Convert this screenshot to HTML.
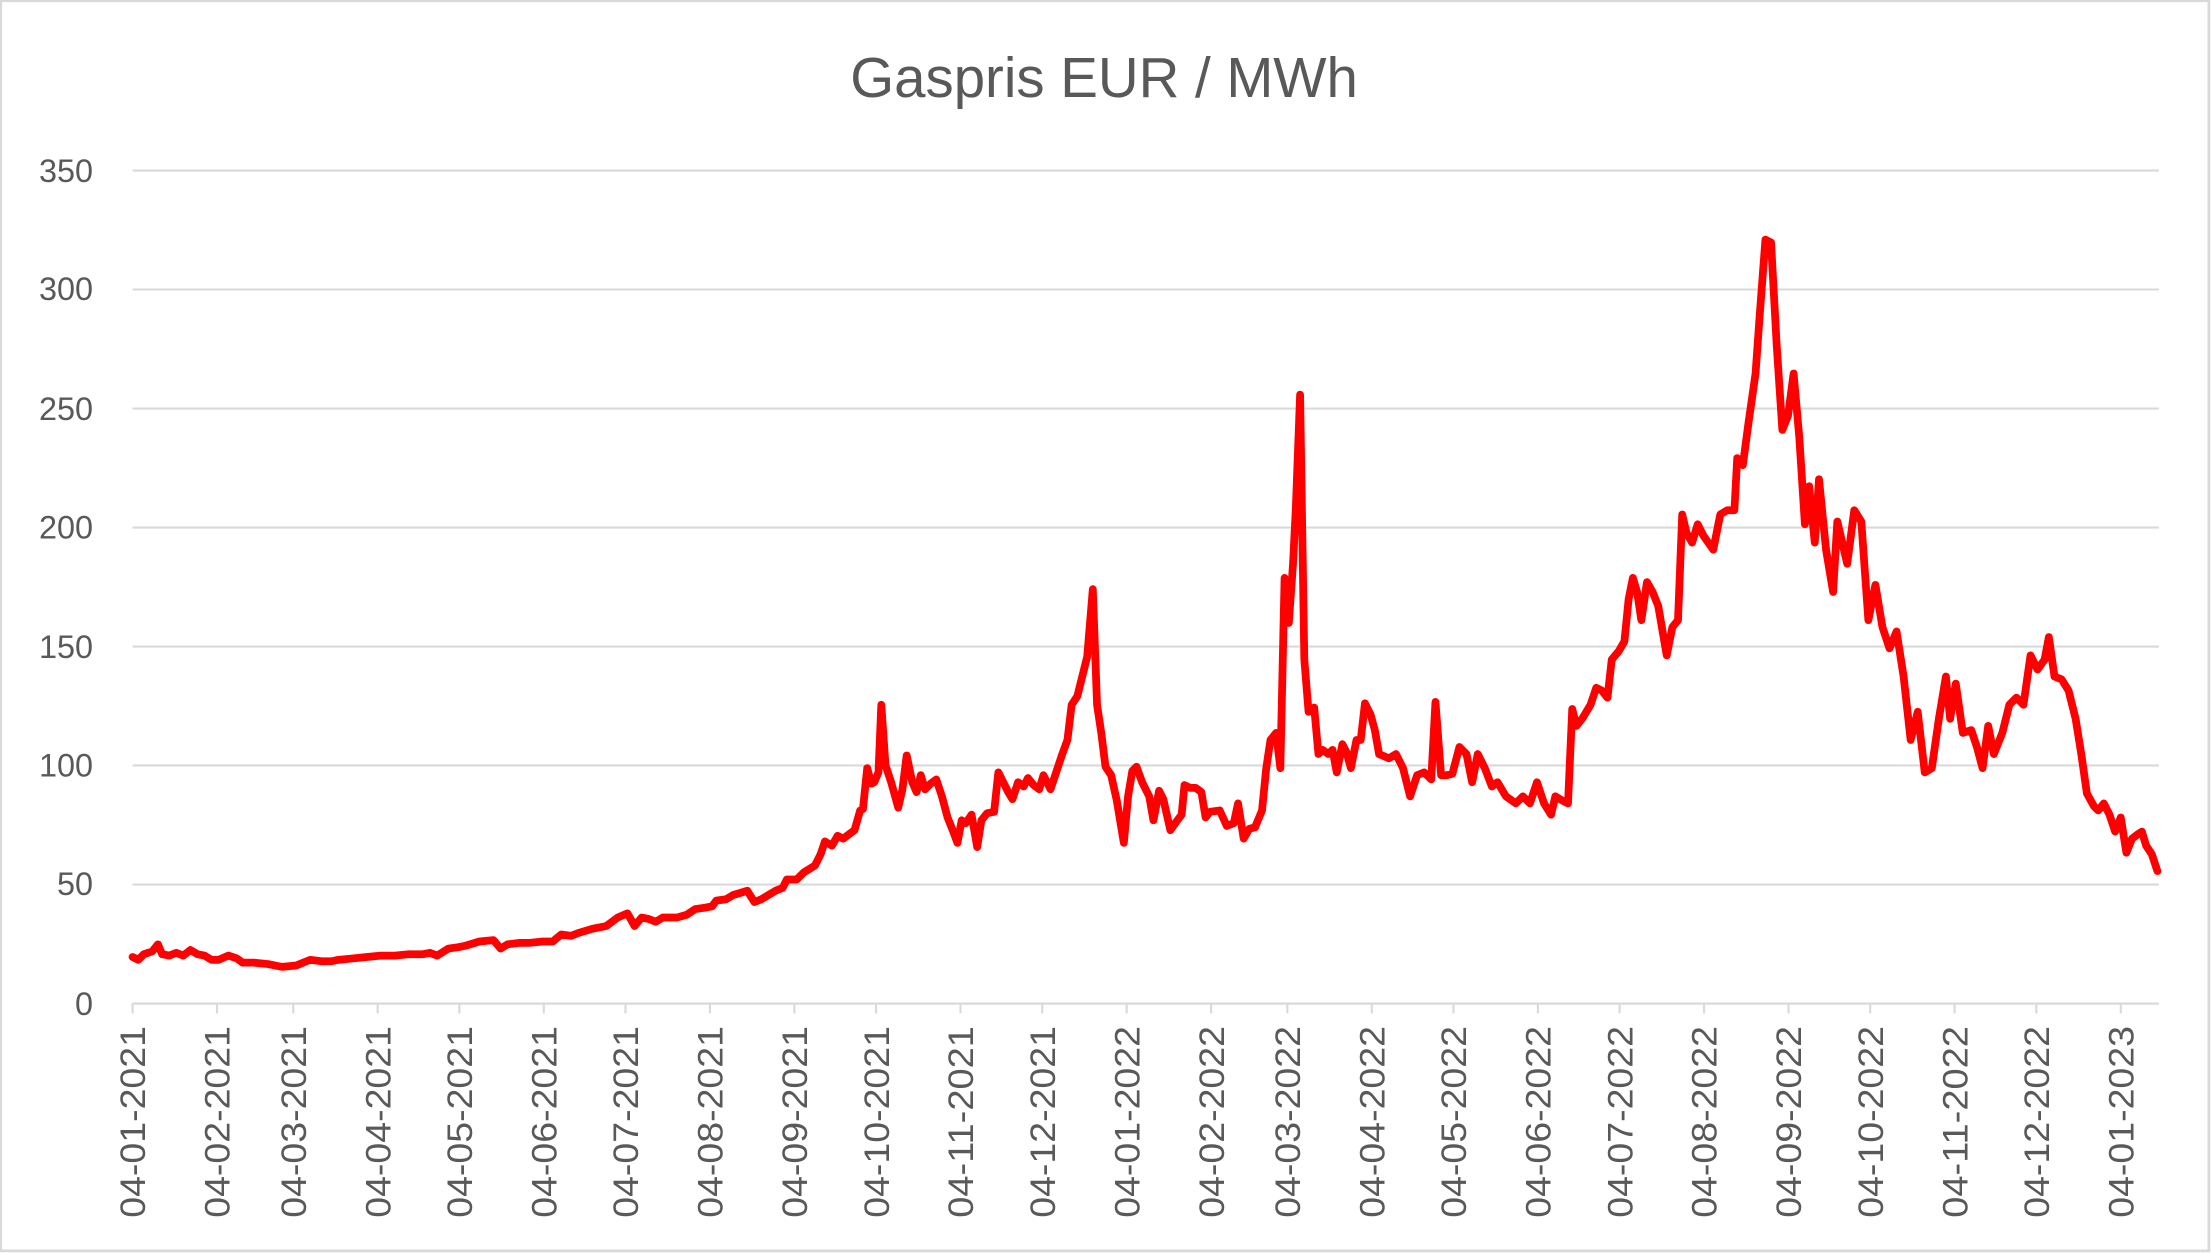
<!DOCTYPE html>
<html><head><style>html,body{margin:0;padding:0;background:#fff}svg{display:block}</style></head>
<body>
<svg width="2211" height="1253" viewBox="0 0 1568 889" preserveAspectRatio="none" xmlns="http://www.w3.org/2000/svg" font-family="Liberation Sans, sans-serif" fill="#595959">
<rect x="0.5" y="0.5" width="1566" height="887" fill="#fff" stroke="#d9d9d9" stroke-width="2"/>
<text x="783" y="69" font-size="40" text-anchor="middle" textLength="360" lengthAdjust="spacingAndGlyphs">Gaspris EUR / MWh</text>
<g stroke="#d9d9d9" stroke-width="1.5">
<line x1="94" x2="1531" y1="121" y2="121"/><line x1="94" x2="1531" y1="205.4" y2="205.4"/><line x1="94" x2="1531" y1="289.9" y2="289.9"/><line x1="94" x2="1531" y1="374.3" y2="374.3"/><line x1="94" x2="1531" y1="458.7" y2="458.7"/><line x1="94" x2="1531" y1="543.1" y2="543.1"/><line x1="94" x2="1531" y1="627.6" y2="627.6"/><line x1="94" x2="1531" y1="712" y2="712"/>
</g>
<g font-size="23" text-anchor="end">
<text x="66" y="129">350</text><text x="66" y="213">300</text><text x="66" y="298">250</text><text x="66" y="382">200</text><text x="66" y="467">150</text><text x="66" y="551">100</text><text x="66" y="635">50</text><text x="66" y="720">0</text>
</g>
<g id="ticks" stroke="#d9d9d9" stroke-width="1.5"></g>
<g id="xl" font-size="25" text-anchor="end"></g>
<polyline fill="none" stroke="#ff0000" stroke-width="5.5" stroke-linejoin="round" stroke-linecap="round" points="94,679 98,681 102,677 108,675 112,670 115,677 120,678 125,676 130,678 135,674 140,677 145,678 150,681 155,681 162,678 168,680 172,683 180,683 190,684 200,686 210,685 220,681 228,682 235,682 240,681 250,680 260,679 270,678 280,678 290,677 300,677 305,676 310,678 318,673 325,672 330,671 340,668 350,667 355,673 360,670 368,669 375,669 385,668 392,668 398,663 405,664 410,662 420,659 430,657 438,651 445,648 450,657 455,651 460,652 465,654 470,651 480,651 487,649 493,645 500,644 505,643 508,639 515,638 520,635 530,632 535,640 540,638 545,635 550,632 555,630 558,624 565,624 570,619 578,614 582,606 585,597 590,600 594,593 598,595 602,592 606,589 610,575 612,574 615,545 618,556 620,555 623,548 625,500 628,543 632,555 637,573 640,560 643,536 647,555 650,562 653,550 656,560 660,556 664,553 668,565 672,580 676,590 679,598 682,582 685,584 689,578 693,601 696,582 700,577 705,576 708,548 712,556 715,562 718,567 722,555 726,558 729,552 733,557 737,560 740,550 745,560 750,545 753,536 757,525 760,500 764,494 768,478 771,466 775,418 778,500 781,520 784,544 788,550 792,568 797,598 800,565 803,547 806,544 810,555 815,565 818,582 822,561 825,567 830,589 835,582 838,578 840,557 844,559 848,559 852,562 855,580 858,576 865,575 870,586 875,584 878,570 882,595 886,588 890,587 895,575 898,545 901,525 905,520 908,545 911,410 914,442 917,400 919,360 922,280 925,468 928,505 932,502 935,535 938,532 942,535 945,532 948,548 952,528 955,534 958,545 962,525 965,525 968,499 972,507 975,518 978,535 985,538 990,535 995,545 1000,565 1005,550 1010,548 1015,553 1018,498 1022,550 1026,550 1030,549 1035,530 1040,535 1044,555 1048,535 1053,545 1058,558 1062,555 1068,565 1075,570 1080,565 1085,570 1090,555 1095,570 1100,578 1103,565 1108,568 1112,570 1115,503 1118,515 1122,510 1128,500 1132,488 1136,490 1140,495 1143,468 1148,462 1152,455 1155,425 1158,410 1161,420 1164,440 1168,413 1172,420 1176,430 1182,465 1186,445 1190,440 1193,365 1196,378 1200,385 1204,372 1208,380 1215,390 1220,365 1225,362 1230,362 1232,325 1236,330 1240,300 1245,265 1248,223 1252,170 1256,172 1260,245 1264,305 1268,295 1272,265 1276,310 1280,372 1283,345 1287,385 1290,340 1295,390 1300,420 1303,370 1310,400 1315,362 1320,370 1325,440 1330,415 1335,445 1340,460 1345,448 1350,480 1355,525 1360,505 1365,548 1370,545 1375,510 1380,480 1383,510 1387,485 1392,520 1398,518 1402,530 1406,545 1410,515 1414,535 1420,520 1425,500 1430,495 1435,500 1440,465 1445,475 1450,468 1453,452 1457,480 1462,482 1467,490 1472,510 1476,535 1480,563 1485,572 1488,575 1492,570 1496,578 1500,590 1504,580 1508,605 1512,595 1516,592 1519,590 1522,600 1526,606 1530,618"/>
<script>
(function(){
var ns="http://www.w3.org/2000/svg";
var t=document.getElementById("ticks"),l=document.getElementById("xl");
var start=Date.UTC(2021,0,4);
for(var i=0;i<=24;i++){
 var y=2021+Math.floor(i/12),m=i%12;
 var d=(Date.UTC(y,m,4)-start)/86400000;
 var x=94+d*(1410/730);
 var ln=document.createElementNS(ns,"line");
 ln.setAttribute("x1",x);ln.setAttribute("x2",x);ln.setAttribute("y1",712);ln.setAttribute("y2",719);
 t.appendChild(ln);
 var tx=document.createElementNS(ns,"text");
 tx.setAttribute("transform","translate("+(x+9)+",728) rotate(-90)");
 tx.setAttribute("textLength","136");tx.setAttribute("lengthAdjust","spacingAndGlyphs");
 tx.textContent="04-"+(m+1<10?"0":"")+(m+1)+"-"+y;
 l.appendChild(tx);
}
var b=document.createElementNS(ns,"line");
b.setAttribute("x1",94);b.setAttribute("x2",1531);b.setAttribute("y1",712);b.setAttribute("y2",712);
b.setAttribute("stroke","#d9d9d9");b.setAttribute("stroke-width","1.5");t.appendChild(b);
})();
</script>
</svg>
</body></html>
